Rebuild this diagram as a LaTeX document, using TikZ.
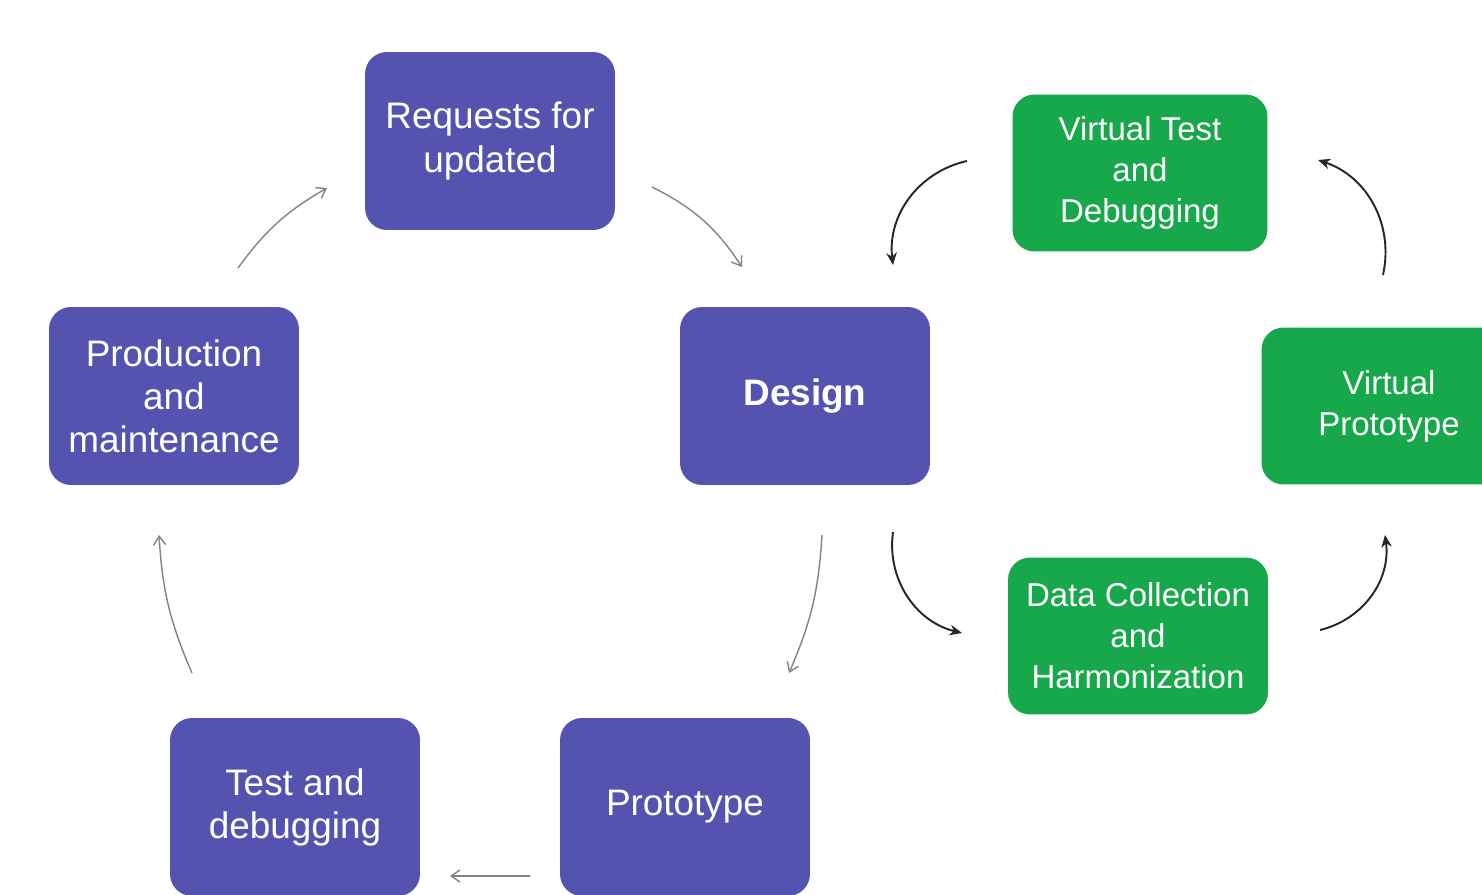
\documentclass[tikz,border=0pt]{standalone}
\usepackage{fontspec}
\setmainfont{Liberation Sans}
\usetikzlibrary{arrows.meta}

\definecolor{stagepurple}{RGB}{84,84,176}
\definecolor{stagegreen}{RGB}{22,168,74}
\definecolor{arrowgray}{RGB}{130,130,142}

\begin{document}
\begin{tikzpicture}[x=0.02cm, y=-0.02cm,
    stage/.style={rectangle, rounded corners=0.44cm, fill=stagepurple, text=white, align=center,
      minimum width=5cm, minimum height=3.56cm, font=\fontsize{21}{24.5}\selectfont},
    virtual/.style={stage, fill=stagegreen, minimum width=5.1cm, minimum height=3.14cm,
      font=\fontsize{18.8}{23.3}\selectfont},
    grayarrow/.style={draw=arrowgray, line width=0.8pt, -{Straight Barb[length=5pt,width=7pt]}},
    blackarrow/.style={draw=black!85, line width=1.1pt, -{Stealth[length=7pt,width=6pt]}}]
        % Fix the size of the picture
        \path[use as bounding box, clip] (0,0) rectangle (1482,895);

        % Draw the main development cycle
        \node[stage] (req) at (490,141) {Requests for\\updated};
        \node[stage, font=\bfseries\fontsize{21}{24.5}\selectfont] (design) at (805,396) {Design};
        \node[stage] (prod) at (174,396) {Production\\and\\maintenance};
        \node[stage] (test) at (295,807) {Test and\\debugging};
        \node[stage] (proto) at (685,807) {Prototype};

        % Draw the virtual loop
        \node[virtual] (vtest) at (1140,173) {Virtual Test\\and\\Debugging};
        \node[virtual] (vproto) at (1389,406) {Virtual\\Prototype};
        \node[virtual, minimum width=5.2cm] (data) at (1138,636) {Data Collection\\and\\Harmonization};

        % End points of the arrows
        \foreach \n/\x/\y in {r1/652/187, r2/742/267, p1/822/535, p2/789/673, t1/530/876, t2/450/876,
                              m1/192/673, m2/159/535, u1/238/268, u2/327/188,
                              a1/967/161, a2/893/265, b1/893/532, b2/962/633,
                              c1/1320/630, c2/1385/535, d1/1383/275, d2/1318/160}
        {
          \coordinate (\n) at (\x,\y);
        }

        % Arrows of the main cycle
        \foreach \s/\e/\ang in {r1/r2/15, p1/p2/10, t1/t2/0, m1/m2/10, u1/u2/12}
        {
          \draw[grayarrow] (\s) to[bend left=\ang] (\e);
        }

        % Arrows of the virtual loop
        \foreach \s/\e in {a1/a2, b1/b2, c1/c2, d1/d2}
        {
          \draw[blackarrow] (\s) to[bend right=42] (\e);
        }
      \end{tikzpicture}
\end{document}
